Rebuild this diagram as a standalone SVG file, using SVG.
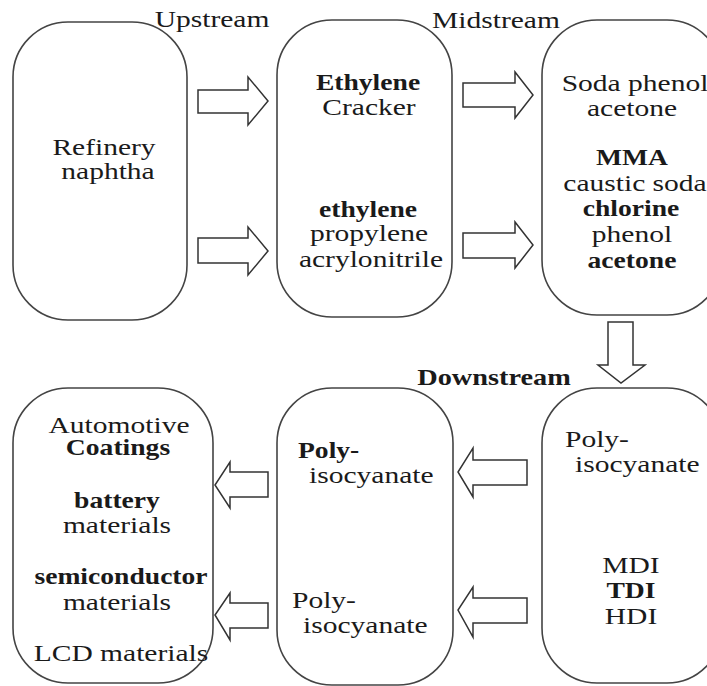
<svg xmlns="http://www.w3.org/2000/svg" width="707" height="686" viewBox="0 0 707 686">
  <style>
    .box { fill: #fff; stroke: #444; stroke-width: 1.6; }
    .arrow { fill: #fff; stroke: #333; stroke-width: 1.5; stroke-linejoin: miter; }
    text { font-family: "Liberation Serif", "Times New Roman", serif; font-size: 24px; fill: #1a1a1a; text-anchor: middle; }
    .b { font-weight: bold; }
    .l { text-anchor: start; }
  </style>
  <rect width="707" height="686" fill="#fff"/>

  <!-- stage headings -->
  <g id="headings">
    <text transform="translate(212 27) scale(1.23 1)">Upstream</text>
    <text transform="translate(496 28) scale(1.23 1)">Midstream</text>
    <text class="b" transform="translate(494 385) scale(1.18 1)">Downstream</text>
  </g>

  <!-- block arrows between stages -->
  <g id="connectors">
    <path class="arrow" d="M198 90 H248 V77 L268 101 L248 125 V113 H198 Z"/>
    <path class="arrow" d="M198 238 H248 V227 L268 251 L248 275 V263 H198 Z"/>
    <path class="arrow" d="M463 83 H515 V72 L533 95 L515 118 V107 H463 Z"/>
    <path class="arrow" d="M463 233 H515 V222 L533 245 L515 268 V258 H463 Z"/>
    <path class="arrow" d="M608 322 H633 V365 H645 L621 383 L598 365 H608 Z"/>
    <path class="arrow" d="M527 460 H473 V448 L458 472 L473 497 V485 H527 Z"/>
    <path class="arrow" d="M527 598 H473 V587 L458 610 L473 637 V623 H527 Z"/>
    <path class="arrow" d="M268 472 H230 V462 L215 485 L230 508 V497 H268 Z"/>
    <path class="arrow" d="M268 603 H230 V593 L215 615 L230 640 V628 H268 Z"/>
  </g>

  <g id="refinery">
    <rect class="box" x="13" y="22" width="174" height="298" rx="55" ry="55"/>
    <text transform="translate(104 155) scale(1.23 1)">Refinery</text>
    <text transform="translate(108 179) scale(1.23 1)">naphtha</text>
  </g>

  <g id="cracker">
    <rect class="box" x="277" y="20" width="175" height="297" rx="55" ry="55"/>
    <text class="b" transform="translate(368 90) scale(1.15 1)">Ethylene</text>
    <text transform="translate(369 115) scale(1.23 1)">Cracker</text>
    <text class="b" transform="translate(368 217) scale(1.15 1)">ethylene</text>
    <text transform="translate(369 241) scale(1.23 1)">propylene</text>
    <text transform="translate(371 267) scale(1.23 1)">acrylonitrile</text>
  </g>

  <g id="chemicals">
    <rect class="box" x="542" y="20" width="180" height="295" rx="55" ry="55"/>
    <text transform="translate(635 91) scale(1.23 1)">Soda phenol</text>
    <text transform="translate(632 116) scale(1.23 1)">acetone</text>
    <text class="b" transform="translate(632 165) scale(1.15 1)">MMA</text>
    <text transform="translate(635 191) scale(1.23 1)">caustic soda</text>
    <text class="b" transform="translate(631 216) scale(1.15 1)">chlorine</text>
    <text transform="translate(632 242) scale(1.23 1)">phenol</text>
    <text class="b" transform="translate(632 268) scale(1.15 1)">acetone</text>
  </g>

  <g id="isocyanates">
    <rect class="box" x="542" y="388" width="180" height="295" rx="55" ry="55"/>
    <text class="l" transform="translate(565 447) scale(1.23 1)">Poly-</text>
    <text class="l" transform="translate(575 472) scale(1.23 1)">isocyanate</text>
    <text transform="translate(631 573) scale(1.23 1)">MDI</text>
    <text class="b" transform="translate(631 598) scale(1.15 1)">TDI</text>
    <text transform="translate(631 624) scale(1.23 1)">HDI</text>
  </g>

  <g id="polyisocyanate">
    <rect class="box" x="277" y="388" width="176" height="297" rx="55" ry="55"/>
    <text class="l b" transform="translate(298 458) scale(1.15 1)">Poly-</text>
    <text class="l" transform="translate(309 483) scale(1.23 1)">isocyanate</text>
    <text class="l" transform="translate(292 608) scale(1.23 1)">Poly-</text>
    <text class="l" transform="translate(303 633) scale(1.23 1)">isocyanate</text>
  </g>

  <g id="applications">
    <rect class="box" x="13" y="388" width="200" height="295" rx="55" ry="55"/>
    <text transform="translate(119 433) scale(1.23 1)">Automotive</text>
    <text class="b" transform="translate(118 455) scale(1.15 1)">Coatings</text>
    <text class="b" transform="translate(117 508) scale(1.15 1)">battery</text>
    <text transform="translate(117 533) scale(1.23 1)">materials</text>
    <text class="b" transform="translate(121 584) scale(1.15 1)">semiconductor</text>
    <text transform="translate(117 610) scale(1.23 1)">materials</text>
    <text transform="translate(121 661) scale(1.23 1)">LCD materials</text>
  </g>
</svg>
